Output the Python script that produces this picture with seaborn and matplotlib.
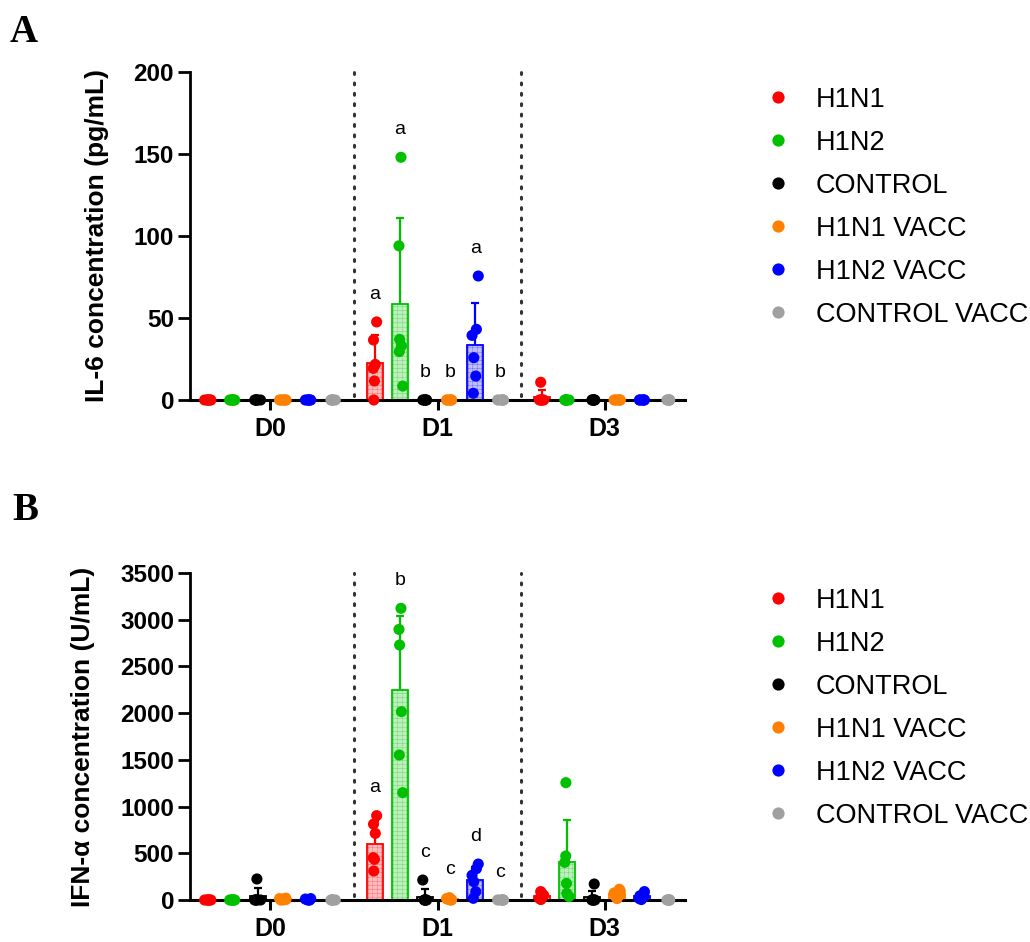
import numpy as np
import pandas as pd
import matplotlib
matplotlib.use("Agg")
import matplotlib.pyplot as plt
import seaborn as sns
from matplotlib.colors import to_rgb

# ---------------- data ----------------
groups = ["H1N1", "H1N2", "CONTROL", "H1N1 VACC", "H1N2 VACC", "CONTROL VACC"]
days = ["D0", "D1", "D3"]
colors = ["#ff0000", "#00c000", "#000000", "#ff8000", "#0000ff", "#a0a0a0"]

# IL-6 (pg/mL), six animals per group, order = groups
il6_D0 = [[0, 0, 0, 0, 0, 0], [0, 0, 0, 0, 0, 0], [0, 0, 0, 0, 0, 0],
          [0, 0, 0, 0, 0, 0], [0, 0, 0, 0, 0, 0], [0, 0, 0, 0, 0, 0]]
il6_D1 = [[47.6, 36.6, 21.7, 19.3, 11.6, 0], [148, 94, 37, 33, 29.5, 8.5],
          [0, 0, 0, 0, 0, 0], [0, 0, 0, 0, 0, 0],
          [75.6, 43.1, 39.4, 25.8, 14.6, 4.1], [0, 0, 0, 0, 0, 0]]
il6_D3 = [[10.8, 0, 0, 0, 0, 0], [0, 0, 0, 0, 0, 0], [0, 0, 0, 0, 0, 0],
          [0, 0, 0, 0, 0, 0], [0, 0, 0, 0, 0, 0], [0, 0, 0, 0, 0, 0]]
il6_letters_D1 = ["a", "a", "b", "b", "a", "b"]

# IFN-alpha (U/mL)
ifn_D0 = [[0, 0, 0, 0, 0, 0], [0, 0, 0, 0, 0, 0], [225, 0, 0, 0, 0, 0],
          [20, 15, 10, 5, 0, 0], [15, 10, 5, 0, 0, 0], [0, 0, 0, 0, 0, 0]]
ifn_D1 = [[903, 812, 713, 453, 435, 310], [3122, 2896, 2729, 2016, 1552, 1149],
          [214, 0, 0, 0, 0, 0], [25, 15, 10, 5, 0, 0],
          [385, 335, 264, 196, 89, 18], [0, 0, 0, 0, 0, 0]]
ifn_D3 = [[90, 70, 50, 30, 15, 5], [1256, 471, 403, 178, 71, 36],
          [171, 0, 0, 0, 0, 0], [115, 95, 75, 55, 35, 15],
          [90, 70, 45, 30, 15, 5], [0, 0, 0, 0, 0, 0]]
ifn_letters_D1 = ["a", "b", "c", "c", "d", "c"]

il6_yticks = [0, 50, 100, 150, 200]
ifn_yticks = [0, 500, 1000, 1500, 2000, 2500, 3000, 3500]


def long_df(per_day):
    rows = []
    for day, block in zip(days, per_day):
        for g, vals in zip(groups, block):
            for v in vals:
                rows.append((day, g, v))
    return pd.DataFrame(rows, columns=["day", "group", "value"])


df_il6 = long_df([il6_D0, il6_D1, il6_D3])
df_ifn = long_df([ifn_D0, ifn_D1, ifn_D3])

# ---------------- style ----------------
sns.set_theme(style="ticks")
plt.rcParams["font.family"] = ["Liberation Sans", "DejaVu Sans"]
plt.rcParams["hatch.linewidth"] = 0.15
for k in ("text.color", "axes.labelcolor", "xtick.color", "ytick.color",
          "axes.edgecolor"):
    plt.rcParams[k] = "black"

W, H = 1030, 942
fig = plt.figure(figsize=(W / 100, H / 100), dpi=100)
axA = fig.add_axes([190 / W, 1 - 400 / H, 495 / W, 328 / H])
axB = fig.add_axes([190 / W, 1 - 900 / H, 495 / W, 327 / H])

WIDTH = 0.9
SCALE = WIDTH / 0.8


def light(c, a):
    r, g, b = to_rgb(c)
    return (1 - a * (1 - r), 1 - a * (1 - g), 1 - a * (1 - b))


def panel(ax, df, yticks, ylabel, letters):
    sns.barplot(data=df, x="day", y="value", hue="group", order=days,
                hue_order=groups, palette=colors, errorbar=None,
                width=WIDTH, gap=0.36, legend=False, ax=ax, zorder=1)
    centers = {}
    for i, g in enumerate(groups):
        for j, d in enumerate(days):
            p = ax.patches[i * len(days) + j]
            col = colors[i]
            p.set_facecolor(light(col, 0.25))
            p.set_edgecolor(col)
            p.set_linewidth(1.3)
            p.set_hatch("++++")
            if hasattr(p, "set_hatch_linewidth"):
                p.set_hatch_linewidth(0.15)
            if hasattr(p, "set_hatchcolor"):
                p.set_hatchcolor(light(col, 0.6))
            centers[(d, g)] = p.get_x() + p.get_width() / 2

    # SD error bars (upper only)
    stats = df.groupby(["day", "group"])["value"].agg(["mean", "std", "max"])
    for (d, g), row in stats.iterrows():
        x = centers[(d, g)]
        col = colors[groups.index(g)]
        if row["std"] > 0:
            ax.vlines(x, row["mean"], row["mean"] + row["std"], color=col,
                      lw=1.6, zorder=2)
            ax.hlines(row["mean"] + row["std"], x - 0.024, x + 0.024,
                      color=col, lw=1.6, zorder=2)

    n_coll = len(ax.collections)
    np.random.seed(7)
    sns.stripplot(data=df, x="day", y="value", hue="group", order=days,
                  hue_order=groups, palette=colors, dodge=True, jitter=0.11,
                  size=8, linewidth=0, ax=ax, legend=True, zorder=4)
    for coll in ax.collections[n_coll:]:
        off = coll.get_offsets()
        if len(off):
            off = np.asarray(off, dtype=float).copy()
            c = np.round(off[:, 0])
            off[:, 0] = c + (off[:, 0] - c) * SCALE
            coll.set_offsets(off)
        coll.set_clip_on(False)

    # significance letters at D1
    for g, letter in zip(groups, letters):
        x = centers[("D1", g)]
        y = stats.loc[("D1", g), "max"]
        ax.annotate(letter, (x, y), xytext=(0, 20), textcoords="offset points",
                    ha="center", va="center", fontsize=14, color="black")

    # dotted separators
    for xs in (0.5, 1.5):
        ax.axvline(xs, ymin=0.012, ymax=1.0, color="#333333", lw=2.2,
                   ls=(0, (0.6, 2.8)), dash_capstyle="round", zorder=0.5,
                   clip_on=False)

    ax.set_xlim(-0.48, 2.48)
    ax.set_ylim(yticks[0], yticks[-1])
    ax.set_yticks(yticks)
    ax.set_xlabel("")
    ax.set_ylabel(ylabel, fontsize=19, fontweight="bold", labelpad=18)
    sns.despine(ax=ax)
    ax.spines["left"].set_linewidth(2)
    ax.spines["bottom"].set_linewidth(2.2)
    ax.tick_params(axis="y", length=8.5, width=2, labelsize=17.5, pad=3)
    ax.tick_params(axis="x", length=7, width=2.2, labelsize=18, pad=5)
    for t in ax.get_xticklabels() + ax.get_yticklabels():
        t.set_fontweight("bold")

    sns.move_legend(ax, "upper left", bbox_to_anchor=(1.105, 0.997),
                    frameon=False, title=None, fontsize=19.5, borderpad=0,
                    handletextpad=0.42, labelspacing=0.63, markerscale=1.1)


panel(axA, df_il6, il6_yticks, "IL-6 concentration (pg/mL)", il6_letters_D1)
panel(axB, df_ifn, ifn_yticks, "IFN-α concentration (U/mL)", ifn_letters_D1)

fig.text(10 / W, 1 - 14 / H, "A", fontsize=28, fontweight="bold",
         family="Liberation Serif", va="top", ha="left")
fig.text(12 / W, 1 - 492 / H, "B", fontsize=28, fontweight="bold",
         family="Liberation Serif", va="top", ha="left")

fig.savefig("out.png", dpi=100)
